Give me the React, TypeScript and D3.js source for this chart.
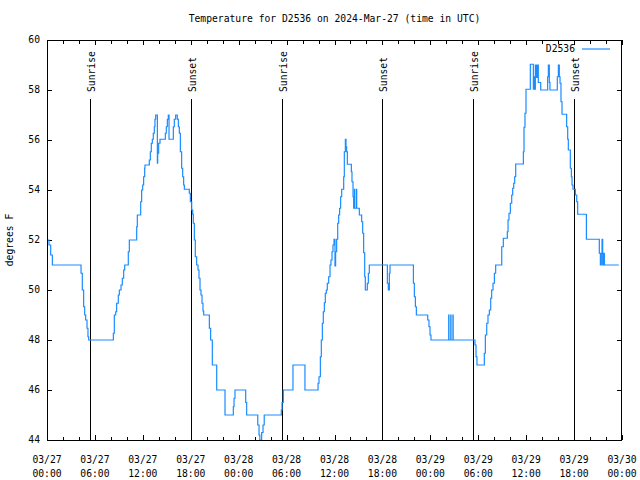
import React from "react";
import * as d3 from "d3";

// time in hours since 2024-03-27 00:00 UTC, value in degrees F (value holds from that time on)
const hours = [
  0, 0.25, 0.46, 0.67, 4.26, 4.42, 4.59, 4.72, 4.84, 5.01, 5.13, 5.22, 8.31, 8.43, 8.6, 8.72, 8.93, 9.06, 9.27, 9.43, 9.6, 9.73,
  10.18, 10.31, 11.23, 11.31, 11.73, 11.85, 11.98, 12.1, 12.23, 12.27, 12.81, 12.94, 13.06, 13.19, 13.31, 13.44, 13.52, 13.61,
  13.82, 13.86, 13.98, 14.15, 14.82, 14.94, 15.07, 15.19, 15.28, 15.82, 15.94, 16.11, 16.32, 16.45, 16.57, 16.7, 16.86, 16.99,
  17.11, 17.2, 17.82, 17.95, 18.12, 18.24, 18.32, 18.45, 18.57, 18.74, 18.91, 19.03, 19.16, 19.28, 19.41, 19.53, 19.62, 20.33,
  20.49, 20.7, 21.25, 22.29, 23.33, 23.42, 23.54,
  24.88, 25.0, 26.39, 26.55, 26.65, 26.88, 27.05, 27.2, 29.34, 29.43, 29.59, 30.8, 32.3, 33.94, 34.06, 34.23, 34.35, 34.48, 34.6,
  34.73, 34.85, 34.98, 35.1, 35.27, 35.44, 35.56, 35.69, 35.81, 35.94, 36.06, 36.14, 36.27, 36.4, 36.52, 36.64, 36.77, 36.9,
  37.15, 37.23, 37.36, 37.44, 37.52, 37.61, 38.11, 38.19, 38.32, 38.4, 38.5, 38.53, 38.75, 38.78, 39.11, 39.4, 39.53, 39.65,
  39.78, 39.86, 40.11, 40.24, 40.36, 42.62, 42.74, 42.87, 42.95, 45.88, 46.0, 46.13, 46.25, 47.67, 47.83, 47.96, 48.08,
  50.3, 50.33, 50.56, 50.59, 50.83, 50.86, 53.59, 53.72, 53.84, 54.76, 54.89, 55.06, 55.22, 55.39, 55.56, 55.68, 55.85, 56.02,
  56.18, 56.94, 57.14, 57.64, 57.73, 57.85, 58.02, 58.19, 58.31, 58.44, 58.56, 58.69, 59.65, 59.73, 59.85, 59.98, 60.52, 60.9,
  60.98, 61.06, 61.15, 61.3, 61.4, 61.52, 61.82, 62.69, 62.78, 62.9, 62.98, 63.9, 64.03, 64.15, 64.24, 64.36, 64.49, 65.07,
  65.2, 65.28, 65.53, 65.66, 65.74, 65.86, 66.16, 66.33, 66.45, 67.54, 69.16, 69.29, 69.41, 69.5, 69.58, 69.66, 69.79, 71.6,
];
const tempF = [
  52, 51.8, 51.4, 51, 50.67, 50, 49.33, 49, 48.8, 48.47, 48.13, 48, 48.27, 49, 49.13, 49.47, 49.8, 50, 50.2, 50.47, 50.8, 51,
  51.53, 52, 52.53, 53, 53.53, 54, 54.2, 54.53, 54.87, 55, 55.2, 55.53, 55.87, 56.03, 56.27, 56.53, 56.83, 57,
  55.07, 55.47, 55.87, 56.03, 56.27, 56.53, 56.83, 57, 56.03, 56.53, 56.83, 57, 56.83, 56.53, 56.27, 55.53, 54.87, 54.53,
  54.2, 54.03, 53.87, 53.53, 53.2, 53.03, 52.67, 52, 51.33, 51, 50.8, 50.47, 50, 49.8, 49.47, 49.16, 49, 48.47,
  48, 47, 46, 45, 45.33, 45.67, 46,
  45.5, 45, 44.6, 44.2, 44, 44.3, 44.6, 45, 45.2, 45.5, 46, 47, 46, 46.27, 46.53, 47.33, 48, 48.67, 49.13,
  49.49, 49.87, 50, 50.27, 50.53, 51, 51.2, 51.53, 51.8, 52.03, 50.96, 51.53, 52.03, 52.67, 53, 53.27, 53.73, 54.03,
  54.53, 55.53, 56.03, 55.73, 55.53, 55.03, 54.73, 54.33, 53.73, 53.27, 54.03, 53.27, 54.03, 53.27, 53, 52.73, 52.27, 51.49,
  50.53, 50, 50.27, 50.67, 51, 50.27, 50, 50.67, 51, 50.27, 49.73, 49.33, 49, 48.8, 48.53, 48.2, 48,
  49, 48, 49, 48, 49, 48, 47.8, 47.33, 47, 47.47, 48.2, 48.67, 49, 49.2, 49.67, 50, 50.27, 50.67,
  51, 51.73, 52.07, 52.33, 52.8, 53.07, 53.47, 53.8, 54.07, 54.27, 54.53, 55.04, 55.53, 56.51, 57.07, 58.03, 59.03, 58.03,
  58.53, 58.03, 59, 58.5, 59, 58.3, 58, 58.53, 59, 58.3, 58, 58.53, 59, 58.53, 58.27, 57.53, 57.03, 56.53,
  56.03, 55.6, 54.87, 54.53, 54.2, 54.03, 53.8, 53.53, 53.03, 52.03, 51.47, 51, 51.47, 52.03, 51, 51.47, 51, 51,
];

const xTickHours = [0, 6, 12, 18, 24, 30, 36, 42, 48, 54, 60, 66, 72];
const xTickDates = ["03/27", "03/27", "03/27", "03/27", "03/28", "03/28", "03/28", "03/28", "03/29", "03/29", "03/29", "03/29", "03/30"];
const xTickTimes = ["00:00", "06:00", "12:00", "18:00", "00:00", "06:00", "12:00", "18:00", "00:00", "06:00", "12:00", "18:00", "00:00"];
const yTicks = [44, 46, 48, 50, 52, 54, 56, 58, 60];
const sunHours = [5.4, 17.97, 29.38, 41.98, 53.37, 65.99];
const sunLabels = ["Sunrise", "Sunset", "Sunrise", "Sunset", "Sunrise", "Sunset"];

const title = "Temperature for D2536 on 2024-Mar-27 (time in UTC)";
const yTitle = "degrees F";
const seriesName = "D2536";

const W = 640, H = 480;
const L = 47, R = 622, T = 40, B = 440;
const FONT = "'DejaVu Sans Mono', 'Liberation Mono', monospace";
const FS = 9.7;
const BLUE = "#1a8cff";

export default function App() {
  const x = d3.scaleLinear().domain([0, 72]).range([L, R]);
  const y = d3.scaleLinear().domain([44, 60]).range([B, T]);
  const pts = hours.map((h, i) => [h, tempF[i]] as [number, number]);
  const line = d3
    .line<[number, number]>()
    .x((d) => x(d[0]))
    .y((d) => y(d[1]))
    .curve(d3.curveStepAfter);
  const minor = d3.range(0, 73, 2);

  return (
    <svg width={W} height={H} style={{ position: "fixed", left: 0, top: 0, background: "#fff" }} fontFamily={FONT} fontSize={FS}>
      <rect x={0} y={0} width={W} height={H} fill="#fff" />
      <text x={(L + R) / 2} y={22} textAnchor="middle">{title}</text>
      <text transform={`translate(13,${(T + B) / 2}) rotate(-90)`} textAnchor="middle">{yTitle}</text>

      <g stroke="#000" strokeWidth={1} shapeRendering="crispEdges">
        {minor.map((h) => {
          const len = h % 6 === 0 ? 5 : 3.5;
          const px = Math.round(x(h)) + 0.5;
          return (
            <g key={h}>
              <line x1={px} x2={px} y1={B} y2={B - len} />
              <line x1={px} x2={px} y1={T} y2={T + len} />
            </g>
          );
        })}
        {yTicks.map((v) => {
          const py = Math.round(y(v)) + 0.5;
          return (
            <g key={v}>
              <line x1={L} x2={L + 5} y1={py} y2={py} />
              <line x1={R} x2={R - 5} y1={py} y2={py} />
            </g>
          );
        })}
      </g>

      {yTicks.map((v) => (
        <text key={v} x={40} y={y(v)} dy="0.35em" textAnchor="end">{v}</text>
      ))}
      {xTickHours.map((h, i) => (
        <g key={h}>
          <text x={x(h)} y={463} textAnchor="middle">{xTickDates[i]}</text>
          <text x={x(h)} y={477} textAnchor="middle">{xTickTimes[i]}</text>
        </g>
      ))}

      {sunHours.map((h, i) => {
        const px = Math.round(x(h)) + 0.5;
        return (
          <g key={h}>
            <line x1={px} x2={px} y1={99} y2={B} stroke="#000" strokeWidth={1} shapeRendering="crispEdges" />
            <text transform={`translate(${px + 4.5},92) rotate(-90)`} textAnchor="start">{sunLabels[i]}</text>
          </g>
        );
      })}

      <path d={line(pts) || ""} fill="none" stroke={BLUE} strokeWidth={1.2} />

      <text x={575} y={49} dy="0.35em" textAnchor="end">{seriesName}</text>
      <line x1={582} x2={610} y1={49} y2={49} stroke={BLUE} strokeWidth={1.2} />

      <rect x={L + 0.5} y={T + 0.5} width={R - L - 1} height={B - T} fill="none" stroke="#000" strokeWidth={1} shapeRendering="crispEdges" />
    </svg>
  );
}
